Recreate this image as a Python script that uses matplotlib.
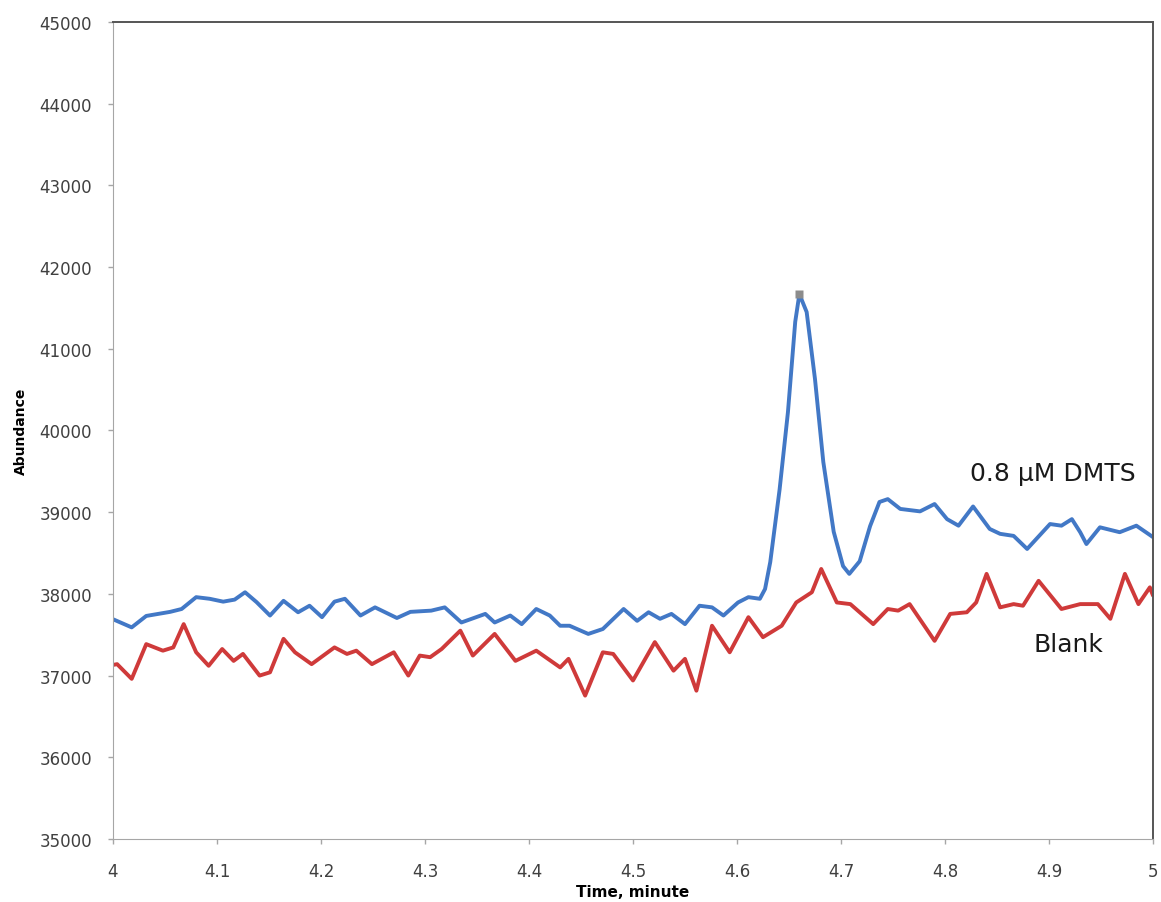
import matplotlib
matplotlib.use("Agg")
from matplotlib import pyplot as plt

# DMTS trace (blue)
dmts_t = [4.000, 4.018, 4.032, 4.055, 4.066, 4.080, 4.093, 4.106, 4.117, 4.127,
          4.138, 4.151, 4.164, 4.178, 4.189, 4.201, 4.213, 4.223, 4.238, 4.252,
          4.273, 4.286, 4.306, 4.319, 4.335, 4.358, 4.367, 4.382, 4.393, 4.407,
          4.420, 4.430, 4.439, 4.457, 4.471, 4.491, 4.504, 4.515, 4.526, 4.537,
          4.550, 4.564, 4.576, 4.587, 4.601, 4.611, 4.622, 4.627, 4.632, 4.641,
          4.649, 4.656, 4.660, 4.667, 4.675, 4.683, 4.693, 4.702, 4.708, 4.718,
          4.728, 4.737, 4.745, 4.757, 4.776, 4.790, 4.802, 4.813, 4.827, 4.843,
          4.853, 4.866, 4.879, 4.901, 4.912, 4.922, 4.930, 4.936, 4.949, 4.968,
          4.984, 5.000]
dmts_v = [37690, 37590, 37730, 37780, 37815, 37960, 37940, 37905, 37930, 38020,
          37900, 37735, 37915, 37775, 37855, 37715, 37905, 37940, 37735, 37835,
          37705, 37780, 37795, 37835, 37650, 37755, 37650, 37735, 37630, 37815,
          37735, 37610, 37610, 37510, 37570, 37815, 37670, 37775, 37695, 37755,
          37630, 37855, 37835, 37735, 37895, 37960, 37940, 38060, 38390, 39280,
          40225, 41330, 41670, 41450, 40630, 39615, 38760, 38340, 38245, 38400,
          38830, 39125, 39160, 39040, 39010, 39100, 38915, 38835, 39070, 38795,
          38735, 38710, 38550, 38855, 38835, 38915, 38755, 38610, 38815, 38755,
          38835, 38695]

# Blank trace (red)
blank_t = [4.000, 4.004, 4.018, 4.032, 4.048, 4.058, 4.068, 4.080, 4.092, 4.105,
           4.116, 4.125, 4.141, 4.151, 4.164, 4.175, 4.191, 4.213, 4.225, 4.234,
           4.249, 4.270, 4.284, 4.295, 4.305, 4.316, 4.334, 4.346, 4.367, 4.387,
           4.407, 4.430, 4.438, 4.454, 4.471, 4.481, 4.500, 4.521, 4.539, 4.550,
           4.561, 4.576, 4.593, 4.611, 4.625, 4.643, 4.657, 4.672, 4.681, 4.696,
           4.709, 4.731, 4.745, 4.755, 4.766, 4.790, 4.805, 4.821, 4.830, 4.840,
           4.853, 4.866, 4.875, 4.890, 4.912, 4.930, 4.947, 4.959, 4.973, 4.986,
           4.997, 5.000]
blank_v = [37130, 37140, 36960, 37385, 37305, 37345, 37630, 37285, 37120, 37325,
           37180, 37265, 37000, 37040, 37450, 37285, 37140, 37345, 37265, 37305,
           37140, 37285, 37000, 37245, 37225, 37325, 37550, 37245, 37510, 37180,
           37305, 37100, 37205, 36755, 37285, 37265, 36940, 37410, 37060, 37205,
           36815, 37610, 37285, 37715, 37470, 37610, 37895, 38020, 38305, 37895,
           37875, 37630, 37815, 37795, 37875, 37425, 37755, 37775, 37895, 38245,
           37835, 37875, 37855, 38160, 37815, 37875, 37875, 37695, 38245, 37875,
           38080, 37980]

x_ticks = [4, 4.1, 4.2, 4.3, 4.4, 4.5, 4.6, 4.7, 4.8, 4.9, 5]
y_ticks = list(range(35000, 45001, 1000))

fig = plt.figure(figsize=(11.61, 9.03), dpi=100)
ax = fig.add_axes([0.0973, 0.0698, 0.8958, 0.9047])

ax.plot(dmts_t, dmts_v, color="#4278c6", lw=2.8, solid_joinstyle="round", solid_capstyle="round")
ax.plot(blank_t, blank_v, color="#cf3a3a", lw=2.8, solid_joinstyle="round", solid_capstyle="round")
# small grey marker sitting on top of the peak
i_max = dmts_v.index(max(dmts_v))
ax.plot([dmts_t[i_max]], [dmts_v[i_max]], marker="s", ms=6, color="#8c8c8c", mec="none")

ax.set_xlim(4, 5)
ax.set_ylim(35000, 45000)
ax.set_xticks(x_ticks)
ax.set_xticklabels([f"{v:g}" for v in x_ticks])
ax.set_yticks(y_ticks)

ax.tick_params(axis="both", labelsize=12, labelcolor="#404040", color="#a6a6a6",
               length=3.5, width=1)
ax.tick_params(axis="x", pad=13)
ax.tick_params(axis="y", pad=11.5)
for side in ("left", "bottom"):
    ax.spines[side].set_color("#a6a6a6")
for side in ("top", "right"):
    ax.spines[side].set_color("#555555")
    ax.spines[side].set_linewidth(1.4)

ax.set_xlabel("Time, minute", fontsize=11, fontweight="bold", labelpad=3)
ax.set_ylabel("Abundance", fontsize=10, fontweight="bold", labelpad=8)

ax.text(4.824, 39480, "0.8 µM DMTS", fontsize=18,
        color="#1a1a1a", va="center", ha="left")
ax.text(4.885, 37390, "Blank", fontsize=18,
        color="#1a1a1a", va="center", ha="left")

fig.savefig("out.png", dpi=100)
